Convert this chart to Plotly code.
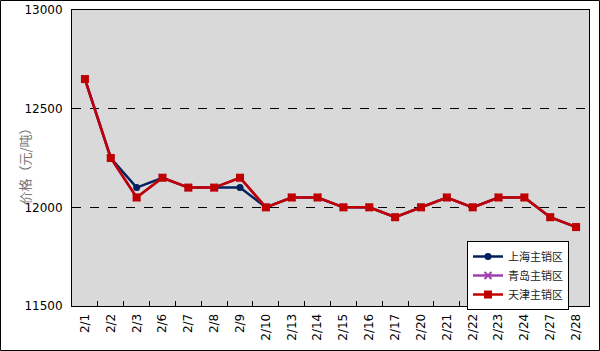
import plotly.graph_objects as go

dates = ["2/1","2/2","2/3","2/6","2/7","2/8","2/9","2/10","2/13","2/14","2/15","2/16","2/17","2/20","2/21","2/22","2/23","2/24","2/27","2/28"]
shanghai = [12650,12250,12100,12150,12100,12100,12100,12000,12050,12050,12000,12000,11950,12000,12050,12000,12050,12050,11950,11900]
qingdao = [12650,12250,12050,12150,12100,12100,12150,12000,12050,12050,12000,12000,11950,12000,12050,12000,12050,12050,11950,11900]
tianjin = [12650,12250,12050,12150,12100,12100,12150,12000,12050,12050,12000,12000,11950,12000,12050,12000,12050,12050,11950,11900]

fig = go.Figure()
fig.add_trace(go.Scatter(x=dates, y=shanghai, name="上海主销区", mode="lines+markers",
                         line=dict(color="#002060", width=2.5), marker=dict(symbol="circle", size=7, color="#002060")))
fig.add_trace(go.Scatter(x=dates, y=qingdao, name="青岛主销区", mode="lines+markers",
                         line=dict(color="#a040b0", width=2.5), marker=dict(symbol="x-thin", size=7, color="#a040b0", line=dict(width=2, color="#a040b0"))))
fig.add_trace(go.Scatter(x=dates, y=tianjin, name="天津主销区", mode="lines+markers",
                         line=dict(color="#c00000", width=2.5), marker=dict(symbol="square", size=8, color="#c00000")))

L, R, T, B = 72, 11, 10, 45
W, H = 600, 351
pw, ph = W - L - R, H - T - B

fig.update_layout(
    width=W, height=H,
    margin=dict(l=L, r=R, t=T, b=B),
    paper_bgcolor="white", plot_bgcolor="#d9d9d9",
    font=dict(family="DejaVu Sans", size=12, color="black"),
    showlegend=True,
    legend=dict(x=(467 - L) / pw, y=(H - B - 241) / ph, xanchor="left", yanchor="top",
                bgcolor="white", bordercolor="black", borderwidth=1,
                font=dict(family="Noto Sans CJK SC", size=11, color="#222"),
                tracegroupgap=0, itemwidth=30),
    xaxis=dict(type="category", tickangle=-90, showgrid=False, showline=True, linecolor="black", linewidth=1,
               mirror=True, ticks="inside", ticklen=5, tickcolor="black", tickson="boundaries",
               range=[-0.5, len(dates) - 0.5], tickfont=dict(size=12), automargin=False, ticklabelstandoff=2),
    yaxis=dict(range=[11500, 13000], tickvals=[11500, 12000, 12500, 13000], tickformat="d", showline=True,
               linecolor="black", linewidth=1, mirror=True, ticks="inside", ticklen=4, tickcolor="black",
               showgrid=True, gridcolor="black", griddash="dash", gridwidth=1, zeroline=False,
               tickfont=dict(size=12), automargin=False, ticklabelstandoff=6),
    annotations=[dict(text="价格（元/吨）", xref="paper", yref="paper", x=(12 - L) / pw, y=(H - B - 163) / ph,
                      textangle=-90, showarrow=False, font=dict(family="Noto Sans CJK SC", size=13, color="#777"))],
    shapes=[dict(type="rect", xref="paper", yref="paper",
                 x0=(0.5 - L) / pw, x1=(W - 0.5 - L) / pw, y0=(H - B - (H - 0.5)) / ph, y1=(H - B - 0.5) / ph,
                 line=dict(color="black", width=1), fillcolor="rgba(0,0,0,0)", layer="below")],
)

fig.write_html("out.html")
